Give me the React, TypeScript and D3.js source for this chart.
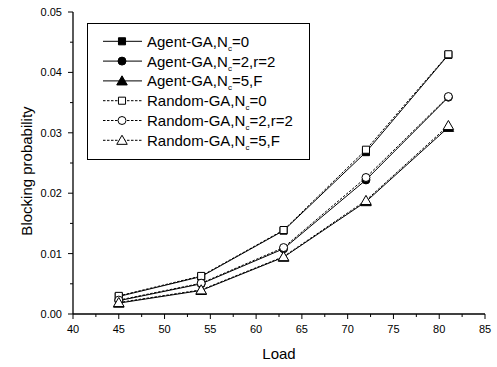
import { useEffect, useRef } from 'react';
import * as d3 from 'd3';

const loads = [45, 54, 63, 72, 81];
const agentNc0 = [0.0029, 0.0062, 0.0138, 0.0268, 0.0429];
const agentNc2 = [0.0022, 0.005, 0.0108, 0.0222, 0.0359];
const agentNc5 = [0.0018, 0.0039, 0.0094, 0.0186, 0.0309];
const randomNc0 = [0.003, 0.0063, 0.0139, 0.0272, 0.043];
const randomNc2 = [0.0023, 0.0051, 0.011, 0.0226, 0.036];
const randomNc5 = [0.0019, 0.004, 0.0095, 0.0188, 0.0312];

const seriesNames = [
  ['Agent-GA,N', 'c', '=0'],
  ['Agent-GA,N', 'c', '=2,r=2'],
  ['Agent-GA,N', 'c', '=5,F'],
  ['Random-GA,N', 'c', '=0'],
  ['Random-GA,N', 'c', '=2,r=2'],
  ['Random-GA,N', 'c', '=5,F'],
];
const seriesValues = [agentNc0, agentNc2, agentNc5, randomNc0, randomNc2, randomNc5];
const seriesSymbols = ['square', 'circle', 'triangle', 'square', 'circle', 'triangle'];
const seriesFilled = [true, true, true, false, false, false];

const xTicks = [40, 45, 50, 55, 60, 65, 70, 75, 80, 85];
const yTicks = [0, 0.01, 0.02, 0.03, 0.04, 0.05];

export default function App() {
  const svgRef = useRef<SVGSVGElement>(null);

  useEffect(() => {
    if (!svgRef.current) return;
    const svg = d3.select(svgRef.current);
    svg.selectAll('*').remove();
    const font = 'Liberation Sans, Arial, sans-serif';

    const x = d3.scaleLinear().domain([40, 85]).range([73, 485]);
    const y = d3.scaleLinear().domain([0, 0.05]).range([314, 12]);

    const symbolPath = (kind: string) => {
      const type = kind === 'square' ? d3.symbolSquare : kind === 'circle' ? d3.symbolCircle : d3.symbolTriangle;
      const size = kind === 'square' ? 50 : kind === 'circle' ? 50 : 48;
      return d3.symbol().type(type).size(size)()!;
    };

    // axes
    const axes = svg.append('g').attr('font-family', font);
    const xMinor = d3.range(42.5, 85, 5);
    const yMinor = d3.range(0.005, 0.05, 0.01);
    axes.append('line').attr('x1', 73).attr('x2', 485).attr('y1', 314).attr('y2', 314)
      .attr('stroke', '#000').attr('stroke-width', 1.3);
    axes.append('line').attr('x1', 73).attr('x2', 73).attr('y1', 12).attr('y2', 314)
      .attr('stroke', '#000').attr('stroke-width', 1.3);

    xTicks.forEach((t) => {
      axes.append('line').attr('x1', x(t)).attr('x2', x(t)).attr('y1', 314).attr('y2', 319)
        .attr('stroke', '#000').attr('stroke-width', 1);
      axes.append('text').attr('x', x(t)).attr('y', 333).attr('text-anchor', 'middle')
        .attr('font-size', 11).attr('fill', '#000').text(t);
    });
    xMinor.forEach((t) => {
      axes.append('line').attr('x1', x(t)).attr('x2', x(t)).attr('y1', 314).attr('y2', 317)
        .attr('stroke', '#000').attr('stroke-width', 1);
    });
    yTicks.forEach((t) => {
      axes.append('line').attr('x1', 68).attr('x2', 73).attr('y1', y(t)).attr('y2', y(t))
        .attr('stroke', '#000').attr('stroke-width', 1);
      axes.append('text').attr('x', 62).attr('y', y(t) + 4).attr('text-anchor', 'end')
        .attr('font-size', 11).attr('fill', '#000').text(t.toFixed(2));
    });
    yMinor.forEach((t) => {
      axes.append('line').attr('x1', 70).attr('x2', 73).attr('y1', y(t)).attr('y2', y(t))
        .attr('stroke', '#000').attr('stroke-width', 1);
    });

    axes.append('text').attr('x', 279).attr('y', 359).attr('text-anchor', 'middle')
      .attr('font-size', 15).text('Load');
    axes.append('text').attr('transform', 'translate(32,171) rotate(-90)').attr('text-anchor', 'middle')
      .attr('font-size', 15).text('Blocking probability');

    // series
    const line = d3.line<number>().x((_, i) => x(loads[i])).y((d) => y(d));
    seriesValues.forEach((vals, s) => {
      const g = svg.append('g');
      g.append('path').attr('d', line(vals)).attr('fill', 'none').attr('stroke', '#000')
        .attr('stroke-width', 1).attr('stroke-dasharray', seriesFilled[s] ? null : '2.5,1.5');
      vals.forEach((v, i) => {
        g.append('path').attr('d', symbolPath(seriesSymbols[s]))
          .attr('transform', `translate(${x(loads[i])},${y(v) + (seriesSymbols[s] === 'triangle' ? 1 : 0)})`)
          .attr('fill', seriesFilled[s] ? '#000' : '#fff').attr('stroke', '#000').attr('stroke-width', 1);
      });
    });

    // legend
    const lg = svg.append('g').attr('font-family', font);
    lg.append('rect').attr('x', 87.5).attr('y', 23.5).attr('width', 222).attr('height', 136)
      .attr('fill', '#fff').attr('stroke', '#000').attr('stroke-width', 1);
    seriesNames.forEach((name, s) => {
      const cy = 41.3 + s * 19.8;
      lg.append('line').attr('x1', 103).attr('x2', 142).attr('y1', cy).attr('y2', cy)
        .attr('stroke', '#000').attr('stroke-width', 1)
        .attr('stroke-dasharray', seriesFilled[s] ? null : '2.5,1.5');
      lg.append('path').attr('d', symbolPath(seriesSymbols[s]))
        .attr('transform', `translate(122,${cy + (seriesSymbols[s] === 'triangle' ? 1 : 0)})`)
        .attr('fill', seriesFilled[s] ? '#000' : '#fff').attr('stroke', '#000').attr('stroke-width', 1);
      const t = lg.append('text').attr('x', 147).attr('y', cy + 5.5).attr('font-size', 15).attr('fill', '#000');
      t.append('tspan').text(name[0]);
      t.append('tspan').attr('font-size', 8).attr('dy', 4).text(name[1]);
      t.append('tspan').attr('dy', -4).text(name[2]);
    });
  }, []);

  return (
    <svg ref={svgRef} width={497} height={367}
      style={{ position: 'absolute', left: 0, top: 0, background: '#fff' }} />
  );
}
